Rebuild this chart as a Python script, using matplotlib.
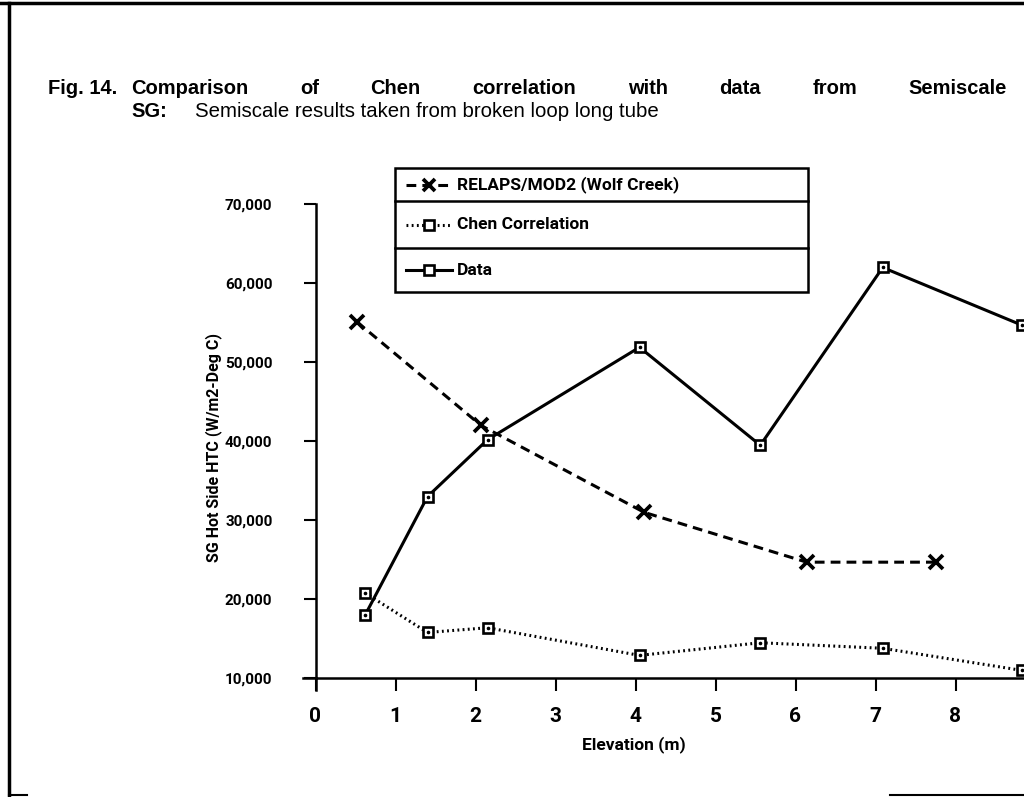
import matplotlib
matplotlib.use("Agg")
import matplotlib.pyplot as plt
from matplotlib.lines import Line2D
from matplotlib.patches import Rectangle

# ---------------- data ----------------
relaps_x = [0.52, 2.07, 4.11, 6.14, 7.76]
relaps_y = [55100, 42000, 31000, 24700, 24700]
elev_x = [0.62, 1.40, 2.15, 4.05, 5.56, 7.09, 8.83]
data_y = [18000, 33000, 40200, 51900, 39500, 62000, 54700]
chen_y = [20800, 15800, 16400, 12900, 14500, 13800, 11000]
x_ticks = [0, 1, 2, 3, 4, 5, 6, 7, 8]
y_ticks = [10000, 20000, 30000, 40000, 50000, 60000, 70000]
y_ticklabels = ["10,000", "20,000", "30,000", "40,000", "50,000", "60,000", "70,000"]
legend_labels = ["RELAPS/MOD2 (Wolf Creek)", "Chen Correlation", "Data"]

cfont = dict(family=["Roboto", "DejaVu Sans"])

W, H = 1024, 797
fig = plt.figure(figsize=(W / 100, H / 100), dpi=100)


def fx(px):
    return px / W


def fy(py):
    return 1 - py / H


x0, x1 = 315.5, 1024
y0, y1 = 678.3, 204.3
ax = fig.add_axes([fx(x0), fy(y0), fx(x1) - fx(x0), fy(y1) - fy(y0)])
ax.set_xlim(0, (x1 - x0) / 80.0)
ax.set_ylim(10000, 70000)

styles = [
    dict(color="black", lw=2.2, linestyle=(0, (3.2, 2.0)), marker="x", markersize=9.5,
         markeredgewidth=2.7),
    dict(color="black", lw=2.2, linestyle=(0, (0.6, 1.1)), marker="s", markersize=7.5,
         markerfacecolor="white", markeredgewidth=1.9),
    dict(color="black", lw=2.2, linestyle="-", marker="s", markersize=7.5,
         markerfacecolor="white", markeredgewidth=1.9),
]

ax.plot(relaps_x, relaps_y, clip_on=False, **styles[0])
ax.plot(elev_x, chen_y, **styles[1])
ax.plot(elev_x, data_y, **styles[2])
# centre dots of the square symbols
ax.plot(elev_x, chen_y, linestyle="none", marker="o", markersize=1.6, color="black")
ax.plot(elev_x, data_y, linestyle="none", marker="o", markersize=1.6, color="black")

for s in ["top", "right"]:
    ax.spines[s].set_visible(False)
for s in ["left", "bottom"]:
    ax.spines[s].set_linewidth(1.8)
ax.plot([0, 0], [-0.025, 0], transform=ax.transAxes, color="black", lw=1.8, clip_on=False)
ax.plot([-0.017, 0], [0, 0], transform=ax.transAxes, color="black", lw=1.8, clip_on=False)

ax.set_xticks(x_ticks)
ax.set_xticklabels([str(v) for v in x_ticks], fontsize=15, fontweight="bold", **cfont)
ax.set_yticks(y_ticks)
ax.set_yticklabels(y_ticklabels, fontsize=11, fontweight="bold", **cfont)
ax.tick_params(axis="x", direction="out", length=9, width=1.5, pad=12)
ax.tick_params(axis="y", direction="out", length=9, width=1.5, pad=22)

fig.text(fx(634), fy(745), "Elevation (m)", ha="center", va="center", fontsize=12.5,
         fontweight="bold", **cfont)
fig.text(fx(214), fy(447), "SG Hot Side HTC (W/m2-Deg C)", rotation=90, ha="center", va="center",
         fontsize=11.5, fontweight="bold", **cfont)

# legend (boxed rows)
lx0, lx1 = 395, 808
rows = [168, 201, 248, 292.5]
fig.add_artist(Rectangle((fx(lx0), fy(rows[-1])), fx(lx1) - fx(lx0), fy(rows[0]) - fy(rows[-1]),
                         transform=fig.transFigure, fill=False, edgecolor="black", lw=1.8))
for py in rows[1:-1]:
    fig.add_artist(Line2D([fx(lx0), fx(lx1)], [fy(py), fy(py)], color="black", lw=1.8))
for i, lab in enumerate(legend_labels):
    yc = (rows[i] + rows[i + 1]) / 2
    st = dict(styles[i])
    mk = st.pop("marker")
    ms = st.pop("markersize")
    mew = st.pop("markeredgewidth")
    mfc = st.pop("markerfacecolor", "black")
    fig.add_artist(Line2D([fx(406), fx(452)], [fy(yc), fy(yc)], **st))
    fig.add_artist(Line2D([fx(429)], [fy(yc)], marker=mk, markersize=ms * 0.9, markeredgewidth=mew,
                          markerfacecolor=mfc, color="black", linestyle="none"))
    fig.text(fx(457), fy(yc), lab, ha="left", va="center", fontsize=12.5, fontweight="bold", **cfont)

# title (justified first line)
tfont = "Liberation Sans"
renderer = fig.canvas.get_renderer()
fig.text(fx(48), fy(94), "Fig. 14.", ha="left", va="baseline", fontsize=14.5, fontweight="bold",
         family=tfont)
words1 = ["Comparison", "of", "Chen", "correlation", "with", "data", "from", "Semiscale"]
tw = []
for w in words1:
    t = fig.text(0, fy(94), w, ha="left", va="baseline", fontsize=14.5, fontweight="bold",
                 family=tfont)
    tw.append((t, t.get_window_extent(renderer).width))
start, end = 131.0, 1007.0
gap = (end - start - sum(w for _, w in tw)) / (len(tw) - 1)
pos = start
for t, w in tw:
    t.set_x(fx(pos))
    pos += w + gap
fig.text(fx(131), fy(117), "SG:", ha="left", va="baseline", fontsize=14.5, fontweight="bold",
         family=tfont)
fig.text(fx(195), fy(117), "Semiscale results taken from broken loop long tube", ha="left",
         va="baseline", fontsize=14.65, family=tfont)

# page border (scan)
fig.add_artist(Line2D([0, 1], [fy(3), fy(3)], color="black", lw=2.5))
fig.add_artist(Line2D([fx(9), fx(9)], [fy(3), fy(795)], color="black", lw=2.5))
fig.add_artist(Line2D([fx(9), fx(27)], [fy(795), fy(795)], color="black", lw=1.5))
fig.add_artist(Line2D([fx(890), 1], [fy(795), fy(795)], color="black", lw=1.5))

fig.savefig("out.png", dpi=100, facecolor="white")
